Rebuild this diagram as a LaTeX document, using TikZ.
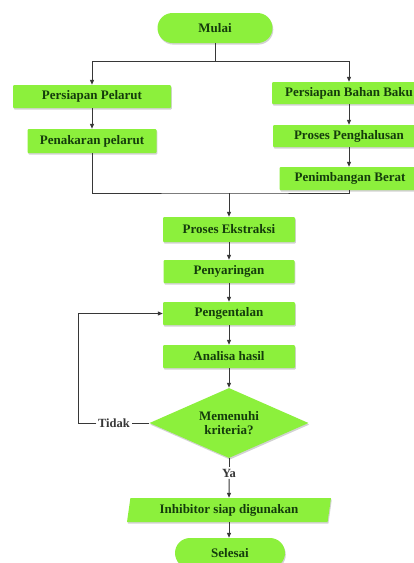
\documentclass[tikz,border=0pt]{standalone}
\usepackage{fontspec}
\setmainfont{Liberation Serif}
\usetikzlibrary{arrows.meta,shapes.geometric,shadows}
\definecolor{boxfill}{RGB}{140,240,60}
\definecolor{boxtext}{RGB}{20,60,12}
\definecolor{linecol}{RGB}{55,55,55}
\begin{document}
\begin{tikzpicture}[x=1pt,y=-1pt,
  base/.style={fill=boxfill, draw=none, text=boxtext, font=\fontsize{13}{14}\selectfont\bfseries, inner sep=0pt,
    drop shadow={shadow xshift=0.8pt,shadow yshift=-1.6pt,opacity=0.35}},
  procbox/.style={base, rectangle, rounded corners=1pt, minimum height=23pt},
  pill/.style={base, rectangle, rounded corners=15pt, minimum height=30pt},
  decision/.style={base, diamond, aspect=2.27, minimum width=159pt, minimum height=70pt, align=center,
    font=\fontsize{13}{14}\selectfont\bfseries},
  iobox/.style={base, trapezium, trapezium left angle=74, trapezium right angle=106, trapezium stretches body,
    minimum width=204pt, minimum height=24pt},
  lbl/.style={text=linecol, font=\fontsize{12.5}{14}\selectfont\bfseries, inner sep=1.5pt},
  conn/.style={draw=linecol, line width=1pt},
  arr/.style={conn, -{Triangle[length=5pt,width=4pt]}}
]
\useasboundingbox (0,0) rectangle (414,563);
\clip (0,0) rectangle (414,563);
\fill[white] (0,0) rectangle (414,563);

\node[pill, minimum width=115pt] (mulai) at (215,28) {Mulai};
\node[procbox, minimum width=158pt] (pp) at (92,96.5) {Persiapan Pelarut};
\node[procbox, minimum width=129pt, minimum height=24pt] (pnp) at (92,141) {Penakaran pelarut};
\node[procbox, minimum width=154pt, minimum height=22pt] (pbb) at (349,93) {Persiapan Bahan Baku};
\node[procbox, minimum width=152pt, minimum height=22pt] (pph) at (349,136) {Proses Penghalusan};
\node[procbox, minimum width=141pt] (pb) at (350,178.5) {Penimbangan Berat};
\node[procbox, minimum width=132pt, minimum height=25pt] (pe) at (229,229.5) {Proses Ekstraksi};
\node[procbox, minimum width=131pt] (py) at (229,271.5) {Penyaringan};
\node[procbox, minimum width=132pt] (pg) at (229,313.5) {Pengentalan};
\node[procbox, minimum width=132pt] (ah) at (229,356.5) {Analisa hasil};
\node[decision] (dec) at (229,423) {Memenuhi\\kriteria?};
\node[lbl] (tidak) at (114,423) {Tidak};
\node[lbl] (ya) at (229,473) {Ya};
\node[iobox] (inh) at (229,510) {Inhibitor siap digunakan};
\node[pill, minimum width=110pt] (selesai) at (230,553) {Selesai};

\coordinate (split) at (215,61);
\coordinate (merge) at (229,193);
\coordinate (loop) at (78,423);

\draw[conn] (mulai.south) -- (split);
\draw[arr] (split) -| (pp.north);
\draw[arr] (split) -| (pbb.north);
\draw[arr] (pp.south) -- (pp.south |- pnp.north);
\draw[arr] (pbb.south) -- (pph.north);
\draw[arr] (pph.south) -- (pph.south |- pb.north);
\draw[conn] (pnp.south) |- (merge) -| (pph.south |- pb.south);
\draw[arr] (merge) -- (pe.north);
\draw[arr] (pe) -- (py);
\draw[arr] (py) -- (pg);
\draw[arr] (pg) -- (ah);
\draw[arr] (ah) -- (dec);
\draw[conn] (dec.west) -- (tidak.east);
\draw[arr] (tidak.west) -- (loop) |- (pg.west);
\draw[conn] (dec.south) -- (ya.north);
\draw[arr] (ya.south) -- (inh.north);
\draw[arr] (inh.south) -- (inh.south |- selesai.north);
\end{tikzpicture}
\end{document}
